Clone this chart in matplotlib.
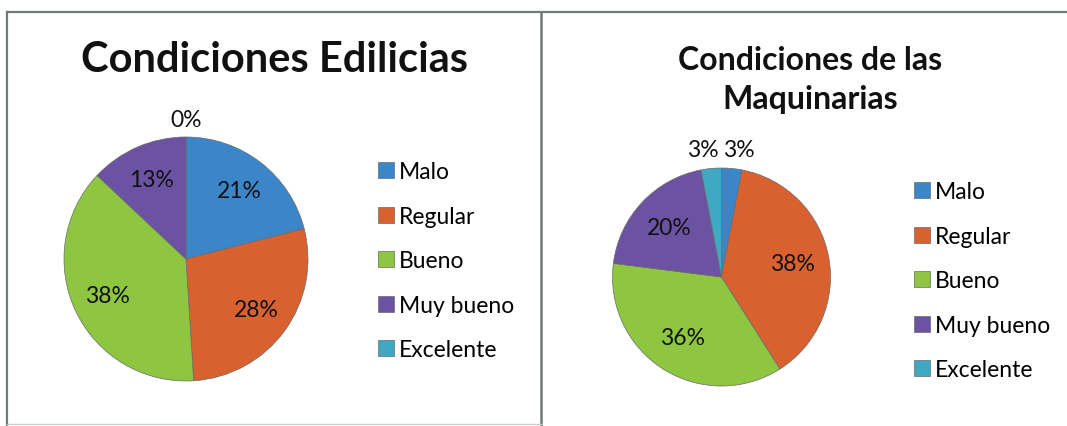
import numpy as np
import matplotlib
matplotlib.use("Agg")
import matplotlib.pyplot as plt
from matplotlib.lines import Line2D

# --- Data ---
categories = ["Malo", "Regular", "Bueno", "Muy bueno", "Excelente"]
edilicias = [21, 28, 38, 13, 0]
maquinarias = [3, 38, 36, 20, 3]
title_edilicias = "Condiciones Edilicias"
title_maquinarias = "Condiciones de las\nMaquinarias"

colors = ["#3b86c8", "#d9602f", "#8ec641", "#6c52a2", "#3fa8c3"]

plt.rcParams["font.family"] = ["Lato", "DejaVu Sans"]

W, H = 1067, 427
fig = plt.figure(figsize=(W / 100, H / 100), dpi=100)
fig.patch.set_facecolor("white")


def px_axes(cx, cy, r):
    """Square axes around a pie centre given in top-origin pixels."""
    return fig.add_axes([(cx - r) / W, (H - cy - r) / H, 2 * r / W, 2 * r / H])


def draw_pie(ax, values, in_dist, out_dist, out_nudge):
    wedges, _ = ax.pie(values, colors=colors, startangle=90, counterclock=False,
                       wedgeprops=dict(edgecolor="#6a6a6a", linewidth=0.5))
    ax.set_xlim(-1, 1)
    ax.set_ylim(-1, 1)
    ax.set_aspect("equal")
    ax.axis("off")
    for w, v in zip(wedges, values):
        mid = ((w.theta1 + w.theta2) / 2) % 360
        if v <= 5:
            # small slices get their label just outside the rim
            mid += out_nudge(mid)
            d = out_dist
        else:
            d = in_dist
        x, y = d * np.cos(np.radians(mid)), d * np.sin(np.radians(mid))
        ax.text(x, y, f"{v}%", ha="center", va="center", fontsize=16.5,
                color="#111111", clip_on=False)
    return wedges


# left pie
ax1 = px_axes(186, 260, 122)
w1 = draw_pie(ax1, edilicias, 0.71, 1.14, lambda a: 0)
# right pie
ax2 = px_axes(721.5, 278, 109)
w2 = draw_pie(ax2, maquinarias, 0.66, 1.18,
              lambda a: 3.0 if a > 90 else -2.5)

# titles
fig.text(275 / W, 1 - 60 / H, title_edilicias, ha="center", va="center",
         fontsize=30, fontweight="bold", color="#111111")
fig.text(810 / W, 1 - 80 / H, title_maquinarias, ha="center", va="center",
         fontsize=23, fontweight="bold", color="#111111", linespacing=1.42)

# legends
for wedges, (lx, ly) in [(w1, (378, 162)), (w2, (914, 182))]:
    fig.legend(wedges, categories, loc="upper left",
               bbox_to_anchor=(lx / W, 1 - ly / H), frameon=False,
               fontsize=16.5, handlelength=0.7, handleheight=0.7,
               handletextpad=0.2, labelspacing=1.03, borderpad=0,
               borderaxespad=0)

# panel borders
bc = "#6e7b79"
fig.add_artist(Line2D([7 / W, 1], [1 - 13 / H] * 2, color=bc, lw=1.6))
fig.add_artist(Line2D([7 / W] * 2, [1 - 13 / H, 0], color=bc, lw=1.6))
fig.add_artist(Line2D([541 / W] * 2, [1 - 13 / H, 0], color=bc, lw=1.8))
fig.add_artist(Line2D([7 / W, 541 / W], [1 - 425 / H] * 2, color="#c8cfcd", lw=1))

fig.savefig("out.png", dpi=100)
